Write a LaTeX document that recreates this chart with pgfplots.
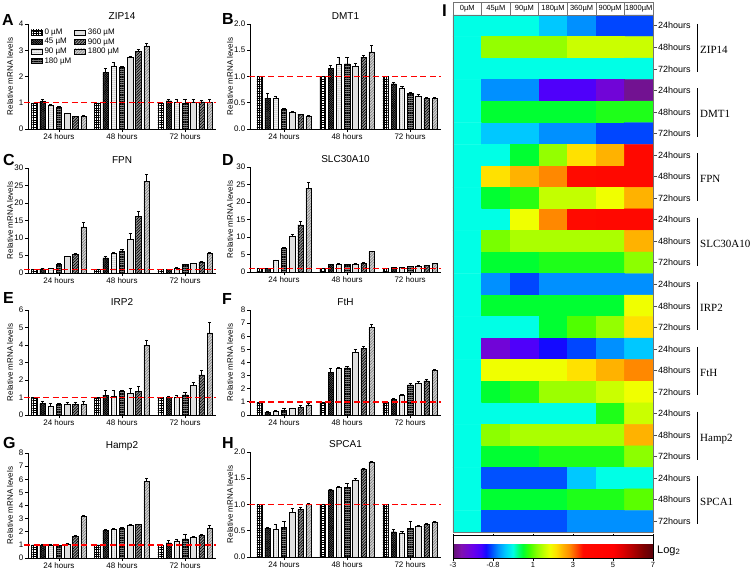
\documentclass[border=0pt]{standalone}
\usepackage{pgfplots}
\pgfplotsset{compat=1.18}
\usepackage{pgfplotstable}
\usepackage{fontspec}
\setmainfont{Liberation Sans}
\newfontfamily\genefont{Liberation Serif}
\usetikzlibrary{patterns,patterns.meta}
\newcommand{\fs}[1]{\fontsize{#1}{#1}\selectfont}

\pgfplotsset{
  barax/.style={
    scale only axis, height=105pt, anchor=south west,
    xmax=2.49, ymin=0,
    axis lines=left, axis line style={-, line width=0.8pt, black},
    tick align=outside, major tick length=3pt,
    tick style={line width=0.8pt, black},
    xtick={0,1,2}, xticklabels={24 hours,48 hours,72 hours},
    tick label style={font=\fs{8}},
    xticklabel style={inner sep=1.5pt},
    yticklabel style={inner sep=1.5pt},
    /pgf/number format/assume math mode=true,
    ylabel={Relative mRNA levels},
    every axis y label/.style={rotate=90, anchor=center, font=\fs{8}},
    title style={font=\fs{10}, at={(0.5,1)}, anchor=base, yshift=-1pt},
    clip=false,
  },
  leftcol/.style={barax, width=188pt, xmin=-0.49, ylabel style={at={(axis description cs:-0.096,0.5)}}},
  rightcol/.style={barax, width=191pt, xmin=-0.54, ylabel style={at={(axis description cs:-0.105,0.5)}}},
  dec/.style={yticklabel style={/pgf/number format/.cd, fixed, fixed zerofill, precision=1}},
  bb/.style={ybar, bar width=0.085, bar shift=0pt, draw=black, line width=0.5pt,
    legend image code/.code={\draw[##1] (0pt,-2.6pt) rectangle (11pt,2.6pt);},
    error bars/y dir=plus, error bars/y explicit,
    error bars/error bar style={line width=0.5pt, black, solid},
    error bars/error mark options={rotate=90, line width=0.5pt, black, mark size=1.6pt}},
  s0/.style={bb, fill=white, postaction={pattern color=black, pattern={Hatch[angle=0,distance=2.4pt,line width=0.45pt]}}},
  s45/.style={bb, fill=black!55, postaction={pattern color=black, pattern={Hatch[angle=45,distance=1.6pt,line width=0.6pt]}}},
  s90/.style={bb, fill=white, postaction={pattern color=black!75, pattern={Dots[distance=2pt,radius=0.5pt]}}},
  s180/.style={bb, fill=black!50, postaction={pattern color=black, pattern={Lines[angle=0,distance=1.8pt,line width=0.6pt]}}},
  s360/.style={bb, fill=black!12},
  s900/.style={bb, fill=black!40, postaction={pattern color=black, pattern={Lines[angle=45,distance=2pt,line width=0.7pt]}}},
  s1800/.style={bb, fill=black!18, postaction={pattern color=black!55, pattern={Lines[angle=45,distance=2pt,line width=0.5pt]}}},
  refline/.style={forget plot, red, line width=1.4pt, dash pattern=on 6pt off 3.5pt},
}

% each concentration sits at a fixed offset inside its time group
\newcommand{\sevenbars}[1]{%
\addplot[s0] table[x expr=\thisrow{g}-0.39,y=v0,y error=e0]{#1};
\addplot[s360] table[x expr=\thisrow{g}+0.13,y=v360,y error=e360]{#1};
\addplot[s45] table[x expr=\thisrow{g}-0.26,y=v45,y error=e45]{#1};
\addplot[s900] table[x expr=\thisrow{g}+0.26,y=v900,y error=e900]{#1};
\addplot[s90] table[x expr=\thisrow{g}-0.13,y=v90,y error=e90]{#1};
\addplot[s1800] table[x expr=\thisrow{g}+0.39,y=v1800,y error=e1800]{#1};
\addplot[s180] table[x expr=\thisrow{g},y=v180,y error=e180]{#1};
\addplot[refline] coordinates {(-0.55,1) (2.49,1)};
}

% ZIP14
\pgfplotstableread{
g v0 e0 v45 e45 v90 e90 v180 e180 v360 e360 v900 e900 v1800 e1800
0 1 0 1.04 0.10 0.91 0.03 0.82 0.03 0.60 0.01 0.47 0.02 0.49 0.02
1 1 0 2.16 0.14 2.39 0.15 2.36 0.04 2.72 0.05 2.95 0.07 3.17 0.10
2 1 0 1.07 0.07 1.02 0.10 1.00 0.12 1.02 0.10 1.03 0.07 1.02 0.10
}\tabA
% DMT1
\pgfplotstableread{
g v0 e0 v45 e45 v90 e90 v180 e180 v360 e360 v900 e900 v1800 e1800
0 1 0 0.59 0.10 0.59 0.04 0.37 0.03 0.32 0.01 0.28 0.01 0.25 0.01
1 1 0 1.15 0.06 1.24 0.12 1.24 0.12 1.20 0.05 1.37 0.03 1.47 0.13
2 1 0 0.86 0.03 0.78 0.03 0.68 0.02 0.63 0.03 0.58 0.02 0.58 0.02
}\tabB
% FPN
\pgfplotstableread{
g v0 e0 v45 e45 v90 e90 v180 e180 v360 e360 v900 e900 v1800 e1800
0 1 0 1.2 0.1 1.4 0.1 2.4 0.3 4.7 0.2 5.4 0.3 13.2 1.3
1 1 0 4.3 0.5 5.6 0.4 6.3 0.4 9.7 1.6 16.2 1.5 26.2 2.0
2 1 0 1.0 0.1 1.5 0.2 2.4 0.2 2.7 0.2 3.2 0.2 5.7 0.3
}\tabC
% SLC30A10
\pgfplotstableread{
g v0 e0 v45 e45 v90 e90 v180 e180 v360 e360 v900 e900 v1800 e1800
0 1 0 1.0 0.1 3.3 0.2 6.8 0.2 10.1 0.6 13.5 1.0 24.0 1.6
1 1 0 2.1 0.2 2.3 0.1 2.1 0.1 2.3 0.1 2.5 0.2 5.8 0.2
2 1 0 1.3 0.1 1.3 0.1 1.6 0.1 1.7 0.1 1.8 0.2 2.4 0.2
}\tabD
% IRP2
\pgfplotstableread{
g v0 e0 v45 e45 v90 e90 v180 e180 v360 e360 v900 e900 v1800 e1800
0 1 0 0.65 0.15 0.50 0.15 0.60 0.10 0.60 0.15 0.60 0.15 0.62 0.15
1 1 0 1.14 0.25 1.10 0.30 1.33 0.10 1.24 0.30 1.33 0.30 4.00 0.30
2 1 0 1.00 0.10 1.00 0.15 1.15 0.15 1.70 0.15 2.30 0.25 4.70 0.60
}\tabE
% FtH
\pgfplotstableread{
g v0 e0 v45 e45 v90 e90 v180 e180 v360 e360 v900 e900 v1800 e1800
0 1 0 0.22 0.05 0.28 0.05 0.38 0.10 0.50 0.05 0.60 0.15 0.78 0.10
1 1 0 3.25 0.35 3.55 0.10 3.60 0.10 4.80 0.20 5.05 0.20 6.70 0.20
2 1 0 1.20 0.10 1.50 0.10 2.30 0.10 2.45 0.10 2.60 0.10 3.40 0.10
}\tabF
% Hamp2
\pgfplotstableread{
g v0 e0 v45 e45 v90 e90 v180 e180 v360 e360 v900 e900 v1800 e1800
0 1 0 1.00 0.05 1.00 0.05 0.95 0.05 1.08 0.05 1.65 0.05 3.15 0.10
1 1 0 2.10 0.12 2.18 0.08 2.25 0.12 2.53 0.05 2.56 0.04 5.82 0.22
2 1 0 1.15 0.20 1.30 0.15 1.45 0.35 1.55 0.10 1.70 0.10 2.23 0.25
}\tabG
% SPCA1
\pgfplotstableread{
g v0 e0 v45 e45 v90 e90 v180 e180 v360 e360 v900 e900 v1800 e1800
0 1 0 0.55 0.02 0.52 0.10 0.56 0.12 0.85 0.07 0.91 0.04 1.00 0.03
1 1 0 1.28 0.02 1.32 0.02 1.32 0.08 1.47 0.03 1.68 0.02 1.81 0.02
2 1 0 0.48 0.05 0.46 0.03 0.54 0.15 0.59 0.01 0.62 0.02 0.67 0.01
}\tabH

\begin{document}
\begin{tikzpicture}
\useasboundingbox (0pt,0pt) rectangle (753pt,-571pt);

% ---------- A ----------
\begin{axis}[leftcol, at={(28pt,-129pt)}, ymax=4, ytick={0,1,2,3,4}, title={ZIP14},
  legend columns=2, legend cell align=left,
  legend style={draw=none, fill=none, font=\fs{8}, at={(0.015,0.975)}, anchor=north west,
    inner sep=0pt, row sep=-1.5pt, /tikz/every even column/.append style={column sep=1pt}}]
\sevenbars{\tabA}
\legend{0 µM, 360 µM, 45 µM, 900 µM, 90 µM, 1800 µM, 180 µM}
\end{axis}
% ---------- B ----------
\begin{axis}[rightcol, dec, at={(250pt,-129pt)}, ymax=2, ytick={0,0.5,1,1.5,2}, title={DMT1}]
\sevenbars{\tabB}
\end{axis}
% ---------- C ----------
\begin{axis}[leftcol, at={(28pt,-273pt)}, ymax=30, ytick={0,5,...,30}, title={FPN}]
\sevenbars{\tabC}
\end{axis}
% ---------- D ----------
\begin{axis}[rightcol, at={(250pt,-272pt)}, ymax=30, ytick={0,5,...,30}, title={SLC30A10}]
\sevenbars{\tabD}
\end{axis}
% ---------- E ----------
\begin{axis}[leftcol, at={(28pt,-415pt)}, ymax=6, ytick={0,...,6}, title={IRP2}]
\sevenbars{\tabE}
\end{axis}
% ---------- F ----------
\begin{axis}[rightcol, at={(250pt,-415pt)}, ymax=8, ytick={0,...,8}, title={FtH}]
\sevenbars{\tabF}
\end{axis}
% ---------- G ----------
\begin{axis}[leftcol, at={(28pt,-558pt)}, ymax=8, ytick={0,...,8}, title={Hamp2}]
\sevenbars{\tabG}
\end{axis}
% ---------- H ----------
\begin{axis}[rightcol, dec, at={(250pt,-557pt)}, ymax=2, ytick={0,0.5,1,1.5,2}, title={SPCA1}]
\sevenbars{\tabH}
\end{axis}

% ---------- I heatmap ----------
\begin{axis}[at={(453pt,-532pt)}, anchor=south west, scale only axis, width=200pt, height=517pt,
  xmin=-0.5, xmax=6.5, ymin=-0.5, ymax=23.5, y dir=reverse, enlargelimits=false,
  xtick=\empty, ytick={0,...,23},
  yticklabels={24hours,48hours,72hours,24hours,48hours,72hours,24hours,48hours,72hours,24hours,48hours,72hours,24hours,48hours,72hours,24hours,48hours,72hours,24hours,48hours,72hours,24hours,48hours,72hours},
  ytick pos=right, yticklabel pos=right, tick align=outside, major tick length=4pt,
  yticklabel style={font=\fs{9}, inner sep=1pt},
  axis line style={black!55, line width=0.6pt}, tick style={black!70, line width=0.6pt},
  axis on top, clip=false,
  colormap={hm}{
    rgb255(0cm)=(100,20,115)
    rgb255(0.4cm)=(128,16,176)
    rgb255(1.0cm)=(105,0,235)
    rgb255(1.4cm)=(70,0,255)
    rgb255(1.65cm)=(20,10,255)
    rgb255(1.9cm)=(0,70,255)
    rgb255(2.25cm)=(0,144,255)
    rgb255(2.6cm)=(0,200,255)
    rgb255(3.0cm)=(0,255,230)
    rgb255(3.3cm)=(0,255,110)
    rgb255(3.5cm)=(0,255,50)
    rgb255(3.8cm)=(60,255,0)
    rgb255(4.2cm)=(140,255,0)
    rgb255(4.55cm)=(195,255,0)
    rgb255(4.85cm)=(240,255,0)
    rgb255(5.15cm)=(255,225,0)
    rgb255(5.5cm)=(255,178,0)
    rgb255(5.85cm)=(255,136,0)
    rgb255(6.2cm)=(255,70,0)
    rgb255(6.5cm)=(255,10,0)
    rgb255(8.0cm)=(255,0,0)
    rgb255(8.5cm)=(220,0,0)
    rgb255(9.0cm)=(176,0,0)
    rgb255(9.5cm)=(128,0,0)
    rgb255(10cm)=(90,0,10)
  },
  point meta min=-3, point meta max=7,
  colorbar horizontal,
  colorbar style={at={(parent axis.south west)}, anchor=north west, yshift=5pt,
    scale only axis, width=200pt, height=23pt,
    xtick={-3,-1,1,3,5,7}, xticklabels={-3,-0.8,1,3,5,7},
    xticklabel style={font=\fs{7.5}, inner sep=1.5pt},
    tick align=outside, major tick length=2pt,
    axis line style={black, line width=0.6pt}, tick style={black, line width=0.5pt}},
]
\addplot[matrix plot*, mesh/cols=7, mesh/rows=24, point meta=explicit] table[meta=c, row sep=\\] {
x y c\\
0 0 0\\ 1 0 0\\ 2 0 0\\ 3 0 -0.4\\ 4 0 -0.75\\ 5 0 -1.1\\ 6 0 -1.1\\
0 1 0\\ 1 1 1.25\\ 2 1 1.25\\ 3 1 1.25\\ 4 1 1.6\\ 5 1 1.6\\ 6 1 1.6\\
0 2 0\\ 1 2 0\\ 2 2 0\\ 3 2 0\\ 4 2 0\\ 5 2 0\\ 6 2 0\\
0 3 0\\ 1 3 -0.75\\ 2 3 -0.75\\ 3 3 -1.7\\ 4 3 -1.7\\ 5 3 -2.2\\ 6 3 -2.8\\
0 4 0\\ 1 4 0.5\\ 2 4 0.5\\ 3 4 0.5\\ 4 4 0.5\\ 5 4 0.65\\ 6 4 0.65\\
0 5 0\\ 1 5 -0.4\\ 2 5 -0.4\\ 3 5 -0.75\\ 4 5 -0.75\\ 5 5 -1.1\\ 6 5 -1.1\\
0 6 0\\ 1 6 0\\ 2 6 0.5\\ 3 6 1.25\\ 4 6 2.15\\ 5 6 2.5\\ 6 6 3.8\\
0 7 0\\ 1 7 2.15\\ 2 7 2.5\\ 3 7 2.85\\ 4 7 3.5\\ 5 7 3.8\\ 6 7 3.8\\
0 8 0\\ 1 8 0.5\\ 2 8 0.7\\ 3 8 1.55\\ 4 8 1.55\\ 5 8 1.85\\ 6 8 2.5\\
0 9 0\\ 1 9 0\\ 2 9 1.85\\ 3 9 2.85\\ 4 9 3.5\\ 5 9 3.8\\ 6 9 3.8\\
0 10 0\\ 1 10 1.1\\ 2 10 1.4\\ 3 10 1.4\\ 4 10 1.4\\ 5 10 1.4\\ 6 10 2.5\\
0 11 0\\ 1 11 0.5\\ 2 11 0.5\\ 3 11 0.65\\ 4 11 0.65\\ 5 11 0.65\\ 6 11 1.2\\
0 12 0\\ 1 12 -0.75\\ 2 12 -1.1\\ 3 12 -0.75\\ 4 12 -0.75\\ 5 12 -0.75\\ 6 12 -0.75\\
0 13 0\\ 1 13 0.5\\ 2 13 0.5\\ 3 13 0.5\\ 4 13 0.5\\ 5 13 0.5\\ 6 13 1.85\\
0 14 0\\ 1 14 0\\ 2 14 0\\ 3 14 0.5\\ 4 14 0.9\\ 5 14 1.25\\ 6 14 2.15\\
0 15 0\\ 1 15 -2.2\\ 2 15 -1.7\\ 3 15 -1.35\\ 4 15 -1.1\\ 5 15 -0.75\\ 6 15 -0.4\\
0 16 0\\ 1 16 1.85\\ 2 16 1.85\\ 3 16 1.85\\ 4 16 2.15\\ 5 16 2.5\\ 6 16 2.85\\
0 17 0\\ 1 17 0.5\\ 2 17 0.7\\ 3 17 1.3\\ 4 17 1.3\\ 5 17 1.6\\ 6 17 1.85\\
0 18 0\\ 1 18 0\\ 2 18 0\\ 3 18 0\\ 4 18 0\\ 5 18 0.65\\ 6 18 1.6\\
0 19 0\\ 1 19 1.2\\ 2 19 1.4\\ 3 19 1.4\\ 4 19 1.4\\ 5 19 1.4\\ 6 19 2.5\\
0 20 0\\ 1 20 0.5\\ 2 20 0.5\\ 3 20 0.65\\ 4 20 0.65\\ 5 20 0.65\\ 6 20 1.2\\
0 21 0\\ 1 21 -1.05\\ 2 21 -1.05\\ 3 21 -1.05\\ 4 21 -0.4\\ 5 21 0\\ 6 21 0\\
0 22 0\\ 1 22 0.5\\ 2 22 0.5\\ 3 22 0.5\\ 4 22 0.65\\ 5 22 0.65\\ 6 22 0.95\\
0 23 0\\ 1 23 -1.05\\ 2 23 -1.05\\ 3 23 -1.05\\ 4 23 -0.75\\ 5 23 -0.75\\ 6 23 -0.75\\
};
% header row
\draw[black!55, line width=0.6pt] (axis cs:-0.5,-0.5) -- ([yshift=13pt]axis cs:-0.5,-0.5) -- ([yshift=13pt]axis cs:6.5,-0.5) -- (axis cs:6.5,-0.5);
\draw[black!55, line width=0.6pt] (axis cs:0.5,-0.5) -- ([yshift=13pt]axis cs:0.5,-0.5);
\draw[black!55, line width=0.6pt] (axis cs:1.5,-0.5) -- ([yshift=13pt]axis cs:1.5,-0.5);
\draw[black!55, line width=0.6pt] (axis cs:2.5,-0.5) -- ([yshift=13pt]axis cs:2.5,-0.5);
\draw[black!55, line width=0.6pt] (axis cs:3.5,-0.5) -- ([yshift=13pt]axis cs:3.5,-0.5);
\draw[black!55, line width=0.6pt] (axis cs:4.5,-0.5) -- ([yshift=13pt]axis cs:4.5,-0.5);
\draw[black!55, line width=0.6pt] (axis cs:5.5,-0.5) -- ([yshift=13pt]axis cs:5.5,-0.5);
\node[font=\fs{7.5}, inner sep=0pt] at ([yshift=6.5pt]axis cs:0,-0.5) {0µM};
\node[font=\fs{7.5}, inner sep=0pt] at ([yshift=6.5pt]axis cs:1,-0.5) {45µM};
\node[font=\fs{7.5}, inner sep=0pt] at ([yshift=6.5pt]axis cs:2,-0.5) {90µM};
\node[font=\fs{7.5}, inner sep=0pt] at ([yshift=6.5pt]axis cs:3,-0.5) {180µM};
\node[font=\fs{7.5}, inner sep=0pt] at ([yshift=6.5pt]axis cs:4,-0.5) {360µM};
\node[font=\fs{7.5}, inner sep=0pt] at ([yshift=6.5pt]axis cs:5,-0.5) {900µM};
\node[font=\fs{7.5}, inner sep=0pt] at ([yshift=6.5pt]axis cs:6,-0.5) {1800µM};
% brackets and gene names
\draw[black, line width=0.6pt] ([xshift=44pt]axis cs:6.5,-0.09) -- ([xshift=44pt]axis cs:6.5,2.14);
\draw[black, line width=0.6pt] ([xshift=44pt]axis cs:6.5,2.91) -- ([xshift=44pt]axis cs:6.5,5.14);
\draw[black, line width=0.6pt] ([xshift=44pt]axis cs:6.5,5.91) -- ([xshift=44pt]axis cs:6.5,8.14);
\draw[black, line width=0.6pt] ([xshift=44pt]axis cs:6.5,8.91) -- ([xshift=44pt]axis cs:6.5,11.14);
\draw[black, line width=0.6pt] ([xshift=44pt]axis cs:6.5,11.91) -- ([xshift=44pt]axis cs:6.5,14.14);
\draw[black, line width=0.6pt] ([xshift=44pt]axis cs:6.5,14.91) -- ([xshift=44pt]axis cs:6.5,17.14);
\draw[black, line width=0.6pt] ([xshift=44pt]axis cs:6.5,17.91) -- ([xshift=44pt]axis cs:6.5,20.14);
\draw[black, line width=0.6pt] ([xshift=44pt]axis cs:6.5,20.91) -- ([xshift=44pt]axis cs:6.5,23.14);
\node[anchor=base west, inner sep=0pt, font=\genefont\fs{11}] at ([xshift=47pt,yshift=-6pt]axis cs:6.5,1) {ZIP14};
\node[anchor=base west, inner sep=0pt, font=\genefont\fs{11}] at ([xshift=47pt,yshift=-6pt]axis cs:6.5,4) {DMT1};
\node[anchor=base west, inner sep=0pt, font=\genefont\fs{11}] at ([xshift=47pt,yshift=-6pt]axis cs:6.5,7) {FPN};
\node[anchor=base west, inner sep=0pt, font=\genefont\fs{11}] at ([xshift=47pt,yshift=-6pt]axis cs:6.5,10) {SLC30A10};
\node[anchor=base west, inner sep=0pt, font=\genefont\fs{11}] at ([xshift=47pt,yshift=-6pt]axis cs:6.5,13) {IRP2};
\node[anchor=base west, inner sep=0pt, font=\genefont\fs{11}] at ([xshift=47pt,yshift=-6pt]axis cs:6.5,16) {FtH};
\node[anchor=base west, inner sep=0pt, font=\genefont\fs{11}] at ([xshift=47pt,yshift=-6pt]axis cs:6.5,19) {Hamp2};
\node[anchor=base west, inner sep=0pt, font=\genefont\fs{11}] at ([xshift=47pt,yshift=-6pt]axis cs:6.5,22) {SPCA1};
\end{axis}

\node[anchor=base west, inner sep=0pt, font=\fs{11}] at (657pt,-553pt) {Log\textsubscript{2}};

% panel letters
\node[anchor=base west, inner sep=0pt, font=\bfseries\fs{16}] at (2pt,-25pt) {A};
\node[anchor=base west, inner sep=0pt, font=\bfseries\fs{16}] at (222pt,-24pt) {B};
\node[anchor=base west, inner sep=0pt, font=\bfseries\fs{16}] at (3pt,-165pt) {C};
\node[anchor=base west, inner sep=0pt, font=\bfseries\fs{16}] at (222pt,-165pt) {D};
\node[anchor=base west, inner sep=0pt, font=\bfseries\fs{16}] at (3pt,-303pt) {E};
\node[anchor=base west, inner sep=0pt, font=\bfseries\fs{16}] at (222pt,-304pt) {F};
\node[anchor=base west, inner sep=0pt, font=\bfseries\fs{16}] at (3pt,-448pt) {G};
\node[anchor=base west, inner sep=0pt, font=\bfseries\fs{16}] at (222pt,-448pt) {H};
\node[anchor=base west, inner sep=0pt, font=\bfseries\fs{17}] at (442pt,-16pt) {I};
\end{tikzpicture}
\end{document}
